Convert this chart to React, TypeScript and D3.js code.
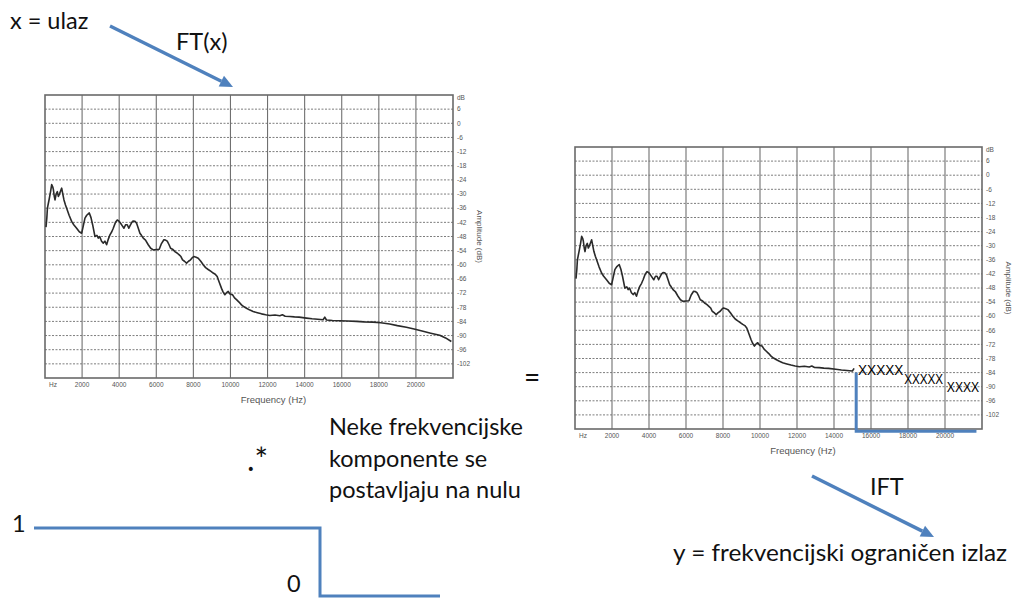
import * as d3 from 'd3';

// spectrum of the input signal (Hz, dB)
const spectrumHz = [
  54, 100, 130, 230, 300, 360, 420, 450, 500, 540, 600, 665, 720, 780, 850, 900, 960, 1023,
  1100, 1167, 1300, 1437, 1550, 1706, 1850, 1975, 2050, 2155, 2250, 2389, 2480, 2568, 2694,
  2800, 2874, 2950, 3050, 3143, 3230, 3322, 3420, 3502, 3600, 3681, 3800, 3897, 3990, 4077,
  4170, 4256, 4350, 4436, 4520, 4580, 4680, 4759, 4850, 4939, 5030, 5118, 5200, 5298, 5420,
  5567, 5700, 5837, 6000, 6160, 6280, 6411, 6500, 6591, 6690, 6771, 6900, 7004, 7120, 7238,
  7330, 7417, 7520, 7633, 7740, 7849, 7940, 8028, 8150, 8262, 8400, 8531, 8660, 8800, 8950,
  9069, 9180, 9285, 9400, 9519, 9600, 9698, 9790, 9878, 9990, 10111, 10220, 10327, 10460,
  10596, 10730, 10865, 11050, 11224, 11450, 11673, 11900, 12122, 12400, 12661, 12800, 12950,
  13200, 13450, 13700, 14098, 14400, 14700, 14996, 15086, 15176, 15500, 15894, 16300, 16792,
  17200, 17690, 18100, 18588, 19000, 19486, 19900, 20384, 20800, 21282, 21600, 21910,
];
const spectrumDb = [
  -44, -40, -36, -32, -29, -26, -27, -28, -31, -32.5, -30, -29, -31, -30, -28.5, -27.5, -30, -32.5,
  -34.5, -36, -39, -41.6, -43, -44.5, -46, -46.6, -44, -40.2, -39, -38, -40, -43, -48,
  -47.5, -48.7, -48, -50, -50.8, -50, -51.5, -49, -47.3, -46, -44.5, -42, -41, -41.5, -42.4,
  -43.5, -44.5, -43, -43, -44.5, -43.5, -42, -41.4, -41.5, -42.4, -44.5, -46.6, -47.5, -48.7, -49.5,
  -51.5, -53, -53.7, -53.5, -53.4, -51, -49.4, -49.5, -50, -51.5, -53, -53.5, -54.4, -55, -55.8,
  -56.5, -57.9, -58.5, -59.3, -58.5, -57.9, -57, -56.5, -56.8, -57.2, -58.5, -60, -61.2, -62, -62.8,
  -63.5, -64, -65, -67.5, -70, -71.5, -72.7, -71.8, -71.3, -72.5, -72.7, -74, -74.8, -75.8,
  -77, -77.8, -78.4, -79.2, -79.8, -80.3, -80.8, -81.2, -81.5, -81.3, -81.6, -81.2, -81.8,
  -81.9, -82.1, -82.2, -82.6, -82.9, -83.1, -83.3, -82.2, -83.4, -83.6, -83.7, -83.8, -84,
  -84.2, -84.3, -84.6, -85.1, -85.8, -86.5, -87.2, -88.2, -89, -89.9, -91, -92.5,
];

const dbTicks = [6, 0, -6, -12, -18, -24, -30, -36, -42, -48, -54, -60, -66, -72, -78, -84, -90, -96, -102];
const freqTicks = [2000, 4000, 6000, 8000, 10000, 12000, 14000, 16000, 18000, 20000];

// right plot: components above the cut-off are crossed out
const cutoffHz = 15200;
const crossStartHz = [15300, 17800, 20100];
const crossEndHz = [17750, 19900, 21850];
const crossDb = [-83, -86.7, -90.1];
const crossText = ['XXXXX', 'XXXXX', 'XXXX'];

const BLUE = '#4f81bd';
const SLIDE_FONT = 'Lato, "Open Sans", sans-serif';
const CHART_FONT = '"Liberation Sans", Arial, sans-serif';

function Spectrum({ left, top, width, height, maxHz, masked }) {
  const x = d3.scaleLinear().domain([0, 22000]).range([0, width]);
  const y = d3.scaleLinear().domain([12, -108]).range([0, height]);

  const pts = spectrumHz
    .map((f, i) => [f, spectrumDb[i]])
    .filter((d) => d[0] <= maxHz);
  const line = d3.line().x((d) => x(d[0])).y((d) => y(d[1]));

  return (
    <g transform={`translate(${left},${top})`}>
      <rect width={width} height={height} fill="#fff" />
      {dbTicks.map((t) => (
        <line key={t} x1={0} x2={width} y1={y(t)} y2={y(t)} stroke="#7d7d7d" strokeWidth={1} strokeDasharray="2,1.5" />
      ))}
      {freqTicks.map((t) => (
        <line key={t} x1={x(t)} x2={x(t)} y1={0} y2={height} stroke="#707070" strokeWidth={1.1} />
      ))}
      <rect width={width} height={height} fill="none" stroke="#6a6a6a" strokeWidth={1.6} />

      <path d={line(pts)} fill="none" stroke="#2a2a2a" strokeWidth={1.6} strokeLinejoin="round" />

      {/* axis labels */}
      <g fontFamily={CHART_FONT} fontSize={6.5} fill="#555">
        <text x={8} y={height + 9} textAnchor="middle">Hz</text>
        {freqTicks.map((t) => (
          <text key={t} x={x(t)} y={height + 9} textAnchor="middle">{t}</text>
        ))}
        <text x={width + 4} y={y(12) + 5}>dB</text>
        {dbTicks.map((t) => (
          <text key={t} x={width + 4} y={y(t)} dy="0.35em">{t}</text>
        ))}
      </g>
      <text x={width * 0.56} y={height + 25} textAnchor="middle" fontFamily={CHART_FONT} fontSize={9.5} fill="#555">
        Frequency (Hz)
      </text>
      <text
        transform={`translate(${width + 24},${height / 2}) rotate(90)`}
        textAnchor="middle"
        fontFamily={CHART_FONT}
        fontSize={8}
        fill="#555"
      >
        Amplitude (dB)
      </text>

      {masked && (
        <g>
          {crossText.map((s, i) => (
            <text
              key={i}
              x={x(crossStartHz[i])}
              y={y(crossDb[i])}
              dy="0.35em"
              fontFamily={CHART_FONT}
              fontSize={14}
              fill="#000"
              textLength={x(crossEndHz[i]) - x(crossStartHz[i])}
              lengthAdjust="spacingAndGlyphs"
            >
              {s}
            </text>
          ))}
          <path
            d={`M${x(cutoffHz)},${y(-84)}V${y(-109)}H${x(21700)}`}
            fill="none"
            stroke={BLUE}
            strokeWidth={3}
          />
        </g>
      )}
    </g>
  );
}

function Arrow({ x1, y1, x2, y2 }) {
  const a = Math.atan2(y2 - y1, x2 - x1);
  const len = 13;
  const half = 6;
  const bx = x2 - len * Math.cos(a);
  const by = y2 - len * Math.sin(a);
  const p1 = [bx + half * Math.sin(a), by - half * Math.cos(a)];
  const p2 = [bx - half * Math.sin(a), by + half * Math.cos(a)];
  return (
    <g>
      <line x1={x1} y1={y1} x2={bx} y2={by} stroke={BLUE} strokeWidth={3.5} />
      <polygon points={`${x2},${y2} ${p1.join(',')} ${p2.join(',')}`} fill={BLUE} />
    </g>
  );
}

export default function App() {
  return (
    <svg
      width={1013}
      height={599}
      style={{ position: 'absolute', left: 0, top: 0, background: '#fff' }}
    >
      <rect width={1013} height={599} fill="#fff" />

      <Spectrum left={45} top={95} width={408} height={283} maxHz={22000} masked={false} />
      <Spectrum left={575} top={147} width={407} height={282} maxHz={15100} masked={true} />

      <g fontFamily={SLIDE_FONT} fill="#111">
        <text x={10} y={29} fontSize={23.5}>x = ulaz</text>
        <text x={176} y={50} fontSize={23.5}>FT(x)</text>
        <text x={524} y={387} fontSize={28}>=</text>
        <text x={247} y={471} fontSize={32}>.*</text>
        <text x={329} y={435} fontSize={23.5}>Neke frekvencijske</text>
        <text x={329} y={467} fontSize={23.5}>komponente se</text>
        <text x={329} y={498} fontSize={23.5}>postavljaju na nulu</text>
        <text x={870} y={495} fontSize={23.5}>IFT</text>
        <text x={673} y={561} fontSize={23.5} textLength={334} lengthAdjust="spacingAndGlyphs">
          y = frekvencijski ograničen izlaz
        </text>
        <text x={12} y={532} fontSize={23.5}>1</text>
        <text x={287} y={592} fontSize={23.5}>0</text>
      </g>

      <Arrow x1={110} y1={26} x2={233} y2={87} />
      <Arrow x1={812} y1={476} x2={934} y2={537} />

      {/* multiplying mask: 1 below the cut-off, 0 above */}
      <path d="M34,528H320V596H440" fill="none" stroke={BLUE} strokeWidth={3} />
    </svg>
  );
}
